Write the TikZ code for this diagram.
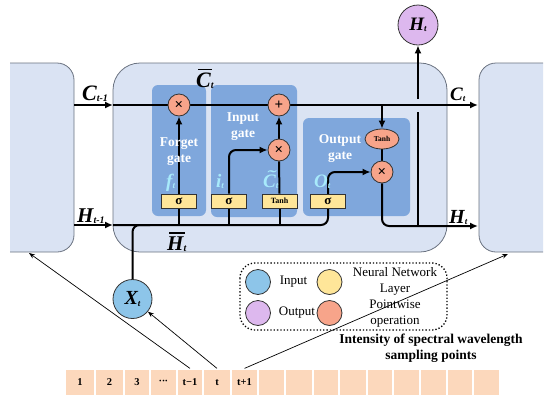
\documentclass[tikz,border=0pt]{standalone}
\usepackage{fontspec}
\usepackage{graphicx}
\setmainfont{Liberation Serif}
\usetikzlibrary{arrows.meta,shapes.geometric}
\definecolor{cellfill}{HTML}{DAE3F3}
\definecolor{cellline}{HTML}{6A7280}
\definecolor{gatefill}{HTML}{7FA7DC}
\definecolor{opfill}{HTML}{F7A48A}
\definecolor{nnfill}{HTML}{FFE699}
\definecolor{infill}{HTML}{8DC5E9}
\definecolor{outfill}{HTML}{DDB8EE}
\definecolor{varcol}{HTML}{A8EAFB}
\definecolor{seqfill}{HTML}{FCD8BC}
\newcommand{\Lbl}[4]{{\fontsize{#1}{#1}\selectfont\bfseries\itshape #2\raisebox{-1.5pt}{\fontsize{#3}{#3}\selectfont #4}}}
\newcommand{\barred}[1]{\setbox0=\hbox{#1}\rlap{\kern2pt\raisebox{\dimexpr\ht0+2pt\relax}{\rule{\dimexpr\wd0-1pt\relax}{1.8pt}}}\box0}
\newcommand{\tilded}[1]{\setbox0=\hbox{#1}\rlap{\hbox to \wd0{\hss\kern2.5pt\raisebox{6.5pt}{\scalebox{2.2}[1.2]{\fontsize{12}{12}\selectfont\char"02DC}}\hss}}\box0}
\pgfdeclarelayer{bg}
\pgfdeclarelayer{mid}
\pgfsetlayers{bg,mid,main}
\begin{document}
\begin{tikzpicture}[x=1pt,y=-1pt,
  cellbox/.style={draw=cellline, fill=cellfill, line width=0.8pt},
  gatebox/.style={fill=gatefill, rounded corners=6pt, inner sep=0pt},
  flow/.style={line width=2pt, draw=black},
  tipped/.style={-{Latex[length=8pt,width=7pt]}},
  opnode/.style={circle, fill=opfill, draw=black!80, line width=0.8pt, minimum size=22pt, inner sep=0pt, font=\bfseries\fontsize{15}{15}\selectfont},
  nnbox/.style={rectangle, fill=nnfill, draw=black!80, line width=0.8pt, minimum width=35pt, minimum height=14pt, inner sep=0pt},
  gatetext/.style={text=white, align=center, font=\bfseries\fontsize{13.5}{16}\selectfont},
  vartext/.style={text=varcol},
  legtext/.style={font=\fontsize{13}{16}\selectfont, align=center, inner sep=0pt},
  seqbox/.style={fill=seqfill, draw=white, line width=1.2pt, minimum height=27pt, inner sep=0pt, font=\bfseries\fontsize{10.5}{10.5}\selectfont},
  thinarrow/.style={line width=0.7pt, -{Stealth[length=6pt,width=4.5pt]}}
]
\useasboundingbox (0,0) rectangle (550,400);

\begin{pgfonlayer}{bg}
  % cells
  \draw[cellbox, rounded corners=17pt] (10,63) -- (74,63) -- (74,252) -- (10,252);
  \draw[cellbox, rounded corners=27pt] (113,63) rectangle (447,252);
  \draw[cellbox, rounded corners=17pt] (543,63) -- (479,63) -- (479,252) -- (543,252);
  % gates
  \node[gatebox, minimum width=54pt, minimum height=131pt] (fg) at (179,150.5) {};
  \node[gatebox, minimum width=86pt, minimum height=132pt] (ig) at (254,151) {};
  \node[gatebox, minimum width=107pt, minimum height=98pt] (og) at (356.5,167) {};
\end{pgfonlayer}

% pointwise operations
\node[opnode] (fx) at (179,105) {×};
\node[opnode] (ip) at (279,105) {+};
\node[opnode] (ix) at (279,150) {×};
\node[opnode] (ox) at (382,172) {×};
\node[ellipse, fill=opfill, draw=black!80, line width=0.8pt, minimum width=34pt, minimum height=20pt, inner sep=0pt, font=\bfseries\fontsize{7.5}{7.5}\selectfont] (th) at (382,139) {Tanh};

% layers
\node[nnbox, font=\bfseries\fontsize{13}{13}\selectfont] (fs) at (179,201) {σ};
\node[nnbox, font=\bfseries\fontsize{13}{13}\selectfont] (is) at (229,201) {σ};
\node[nnbox, font=\bfseries\fontsize{8}{8}\selectfont] (ct) at (279.5,201) {Tanh};
\node[nnbox, font=\bfseries\fontsize{13}{13}\selectfont] (os) at (328,201.5) {σ};

% input/output circles
\node[circle, fill=outfill, draw=black!80, line width=0.8pt, minimum size=40pt, inner sep=0pt] (Ht) at (418,25) {\Lbl{19}{H}{9}{t}};
\node[circle, fill=infill, draw=black!80, line width=0.8pt, minimum size=39pt, inner sep=0pt] (Xt) at (132.5,299) {\Lbl{20}{X}{9}{t}};

% coordinates
\coordinate (cl) at (74,105);
\coordinate (cm) at (113,105);
\coordinate (cr) at (478,105);
\coordinate (hl) at (74,225);
\coordinate (hm) at (113,225);
\coordinate (hr) at (478,226);
\coordinate (split) at (418,226);
\coordinate (jump1) at (418,112);
\coordinate (jump2) at (418,99);
\coordinate (ctap) at (382,105);

\begin{pgfonlayer}{mid}
  % cell state line
  \draw[flow, tipped] (cl) -- (cm);
  \draw[flow, tipped] (cm) -- (cr);
  % hidden state line
  \draw[flow, tipped] (hl) -- (hm);
  \draw[flow, rounded corners=7pt] (hm) -- (os.south |- hm) -- (os.south);
  \draw[flow, rounded corners=7pt] (Xt.north) -- (132.5,225) -- (150,225);
  \draw[flow] (fs.south) -- (fs.south |- hm);
  \draw[flow] (is.south) -- (is.south |- hm);
  \draw[flow] (ct.south) -- (ct.south |- hm);
  % forget gate
  \draw[flow, tipped] (fs.north) -- (fx.south);
  % input gate
  \draw[flow, tipped, rounded corners=7pt] (is.north) -- (is.north |- ix) -- (ix.west);
  \draw[flow] (ct.north) -- (ix.south);
  \draw[flow, tipped] (ix.north) -- (ip.south);
  % output gate
  \draw[flow, tipped, rounded corners=7pt] (os.north) -- (os.north |- ox) -- (ox.west);
  \draw[flow, tipped] (ctap) -- (th.north);
  \draw[flow] (th.south) -- (ox.north);
  \draw[flow, tipped, rounded corners=7pt] (ox.south) -- (ox.south |- hr) -- (hr);
  \draw[flow] (split) -- (jump1);
  \draw[flow, tipped] (jump2) -- (Ht.south);
\end{pgfonlayer}

% state labels
\node[anchor=base west, inner sep=0pt] (lc1) at (82,100) {\Lbl{22}{C}{10}{t-1}};
\node[anchor=base west, inner sep=0pt] (lcb) at (196,87) {{\fontsize{22}{22}\selectfont\bfseries\itshape \barred{C}\raisebox{-1.5pt}{\fontsize{10}{10}\selectfont t}}};
\node[anchor=base west, inner sep=0pt] (lc2) at (450,100) {\Lbl{19}{C}{9}{t}};
\node[anchor=base west, inner sep=0pt] (lh1) at (77,222) {\Lbl{21}{H}{10}{t-1}};
\node[anchor=base west, inner sep=0pt] (lhb) at (167,250) {{\fontsize{21}{21}\selectfont\bfseries\itshape \barred{H}\raisebox{-1.5pt}{\fontsize{10}{10}\selectfont t}}};
\node[anchor=base west, inner sep=0pt] (lh2) at (449,223) {\Lbl{20}{H}{9}{t}};

% gate labels
\node[gatetext] (tf) at (179,152) {Forget\\gate};
\node[gatetext] (ti) at (243,127) {Input\\gate};
\node[gatetext] (to) at (340,149) {Output\\gate};

% variable labels
\node[vartext, anchor=base west, inner sep=0pt] (vf) at (166,187) {\Lbl{19}{f}{9}{t}};
\node[vartext, anchor=base west, inner sep=0pt] (vi) at (216,187) {\Lbl{19}{i}{9}{t}};
\node[vartext, anchor=base west, inner sep=0pt] (vc) at (263,187) {{\fontsize{19}{19}\selectfont\bfseries\itshape \tilded{C}\raisebox{-1.5pt}{\fontsize{9}{9}\selectfont t}}};
\node[vartext, anchor=base west, inner sep=0pt] (vo) at (314,187) {\Lbl{19}{O}{9}{t}};

% legend
\draw[dotted, line width=1.3pt, rounded corners=15pt] (240,263) rectangle (447,330);
\node[circle, fill=infill, draw=black!80, line width=0.8pt, minimum size=25pt, inner sep=0pt] (lgin) at (258,282) {};
\node[circle, fill=outfill, draw=black!80, line width=0.8pt, minimum size=25pt, inner sep=0pt] (lgout) at (258,313) {};
\node[circle, fill=nnfill, draw=black!80, line width=0.8pt, minimum size=25pt, inner sep=0pt] (lgnn) at (329.5,282) {};
\node[circle, fill=opfill, draw=black!80, line width=0.8pt, minimum size=25pt, inner sep=0pt] (lgop) at (329.5,313) {};
\node[legtext] (tin) at (293.5,282) {Input};
\node[legtext] (tout) at (297,313) {Output};
\node[legtext] (tnn) at (395,281) {Neural Network\\Layer};
\node[legtext] (top) at (395,314) {Pointwise\\operation};

% caption
\node[font=\bfseries\fontsize{13.5}{16}\selectfont, align=center, inner sep=0pt] (cap) at (431,348) {Intensity of spectral wavelength\\sampling points};

% sequence
\foreach \a/\b/\t/\n in {65/95/1/s1, 95/124/2/s2, 124/150/3/s3, 150/177/{·\kern-0.5pt·\kern-0.5pt·}/s4, 177/203/t−1/s5, 203/231/t/s6, 231/258/t+1/s7, 258/285//s8, 285/313//s9, 313/339//s10, 339/367//s11, 367/393//s12, 393/420//s13, 420/447//s14, 447/473//s15, 473/500//s16}{
  \node[seqbox, minimum width={\b pt-\a pt}] (\n) at ({(\a+\b)/2},382.5) {\t};
}
\coordinate (lcell) at (29,253);
\coordinate (rcell) at (508,254);
\draw[thinarrow] (s5.north) -- (lcell);
\draw[thinarrow] (s6.north) -- (Xt);
\draw[thinarrow] (s7.north) -- (rcell);
\end{tikzpicture}
\end{document}
